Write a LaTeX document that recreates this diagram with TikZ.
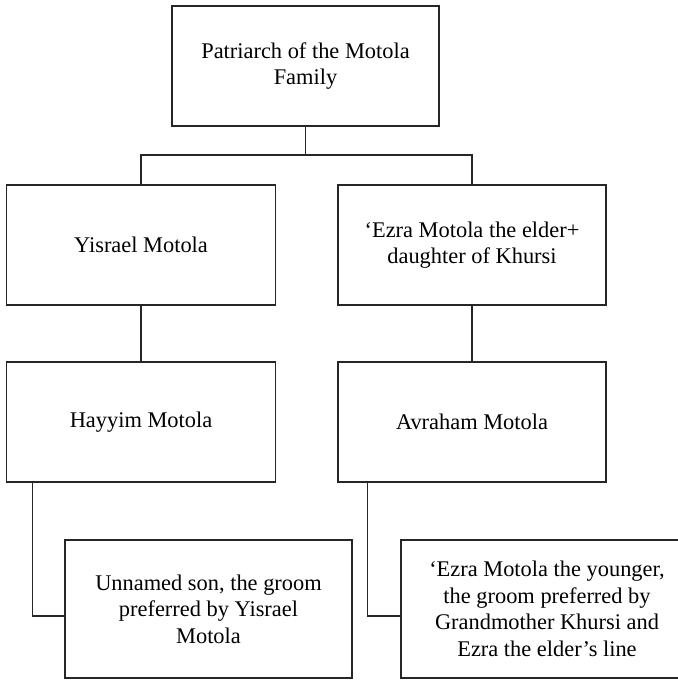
\documentclass[tikz,border=0pt]{standalone}
\usepackage{fontspec}
\setmainfont{Liberation Serif}
\usetikzlibrary{positioning}

\begin{document}
\begin{tikzpicture}[x=0.5pt, y=-0.5pt,
    person/.style={draw=black!85, line width=0.7pt, rectangle, align=center,
      inner sep=0pt, font=\fontsize{11.2}{13.3}\selectfont},
    link/.style={draw=black!85, line width=0.7pt}]
  % Frame (the last box runs off the right edge)
  \useasboundingbox (0,0) rectangle (678,680);

  % Generation 1
  \node[person, minimum width=133.5pt, minimum height=60pt] (patriarch) at (305.5,66)
    {Patriarch of the Motola\\Family};

  % Generation 2
  \node[person, minimum width=134.25pt, minimum height=60pt] (yisrael) at (141,245)
    {Yisrael Motola};
  \node[person, minimum width=134pt, minimum height=60pt] (ezraelder) at (472,245)
    {`Ezra Motola the elder+\\daughter of Khursi};

  % Generation 3
  \node[person, minimum width=134.25pt, minimum height=60pt] (hayyim) at (141,422)
    {Hayyim Motola};
  \node[person, minimum width=134pt, minimum height=60pt] (avraham) at (472,422)
    {Avraham Motola};

  % Generation 4
  \node[person, minimum width=143.5pt, minimum height=69pt] (unnamed) at (208.5,609)
    {Unnamed son, the groom\\preferred by Yisrael\\Motola};
  \node[person, minimum width=146pt, minimum height=69pt] (ezrayounger) at (547,609)
    {`Ezra Motola the younger,\\the groom preferred by\\Grandmother Khursi and\\Ezra the elder's line};

  % Branch points
  \coordinate (bar) at (305.5,155);
  \coordinate (hook1) at (32.5,616);
  \coordinate (hook2) at (367.5,616);

  % Connectors
  \draw[link] (patriarch.south) -- (bar);
  \draw[link] (yisrael.north) |- (bar) -| (ezraelder.north);
  \draw[link] (yisrael.south) -- (hayyim.north);
  \draw[link] (ezraelder.south) -- (avraham.north);
  \draw[link] (hayyim.south -| hook1) |- (unnamed.west |- hook1);
  \draw[link] (avraham.south -| hook2) |- (ezrayounger.west |- hook2);

\end{tikzpicture}
\end{document}
